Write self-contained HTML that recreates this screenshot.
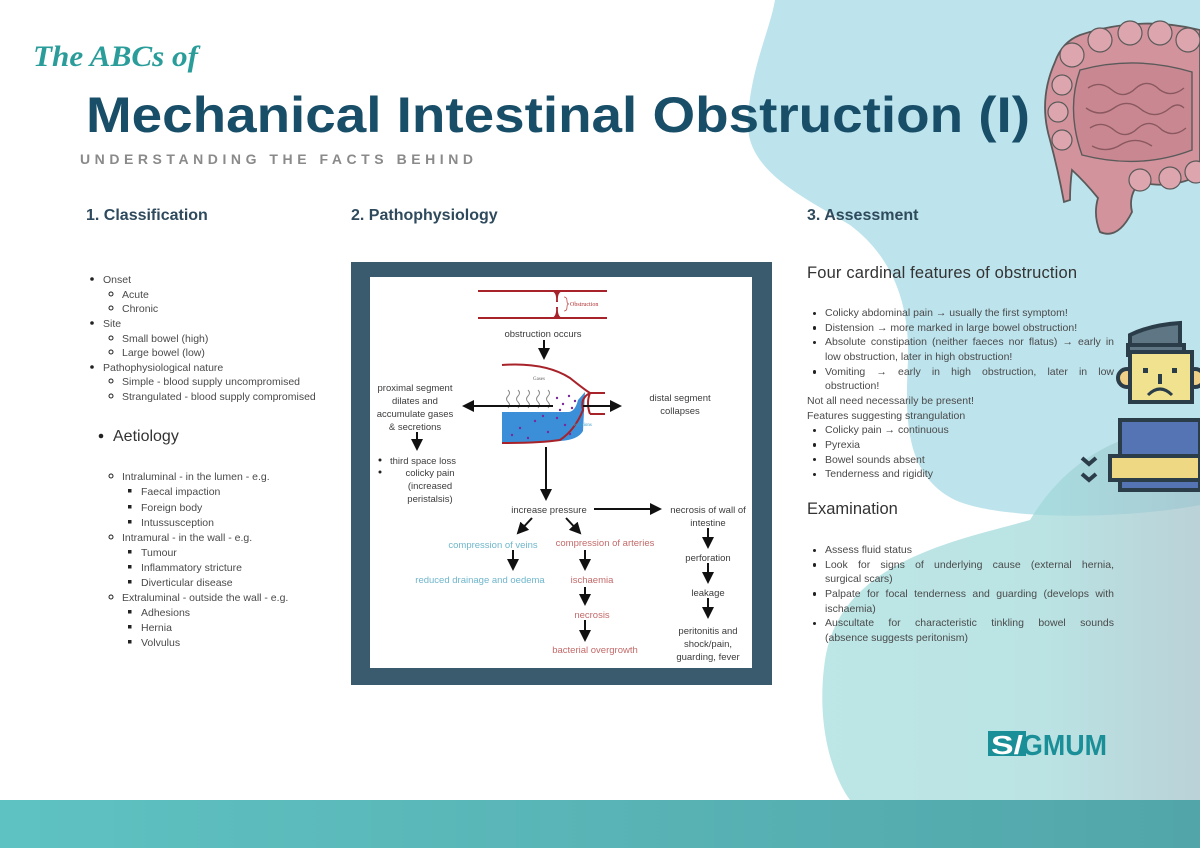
<!DOCTYPE html>
<html><head><meta charset="utf-8"><style>
html,body{margin:0;padding:0;background:#fff;}
svg{display:block;}
text{font-family:"Liberation Sans",sans-serif;}
.t{font-size:10.5px;fill:#4a4a4a;}
.d{font-size:9.5px;fill:#3c3c3c;}
.rc{position:absolute;left:807px;width:307px;font-family:"Liberation Sans",sans-serif;font-size:10.5px;line-height:14.65px;color:#4a4a4a;}
.rc .b{position:relative;padding-left:18px;}
.rc .b:before{content:"";position:absolute;left:6px;top:5.5px;width:3.4px;height:3.4px;border-radius:50%;background:#222;}
.rc .j{text-align:justify;text-align-last:justify;}
.rc .n{padding-left:18px;}
</style></head><body>
<div style="position:relative;width:1200px;height:848px;overflow:hidden;">
<svg width="1200" height="848" viewBox="0 0 1200 848" xmlns="http://www.w3.org/2000/svg">
<defs>
<marker id="ah" markerWidth="6" markerHeight="6" refX="5" refY="3" orient="auto" markerUnits="strokeWidth"><path d="M0,0 L6,3 L0,6 z" fill="#111"/></marker>
<linearGradient id="g1" x1="0" x2="1" y1="0" y2="0"><stop offset="0" stop-color="#a3dcdc"/><stop offset="0.6" stop-color="#a0d8d9"/><stop offset="1" stop-color="#9fc0c9"/></linearGradient>
<linearGradient id="g2" x1="0" x2="1"><stop offset="0" stop-color="#5fc2c2"/><stop offset="1" stop-color="#52a6aa"/></linearGradient>
</defs>
<rect width="1200" height="848" fill="#fff"/>
<!-- top light blob -->
<path d="M775,0 L1200,0 L1200,505 C1120,520 1000,520 955,500 C905,475 905,420 908,360 C910,300 890,255 850,225 C800,195 745,170 748,120 C750,70 770,30 775,0 Z" fill="#bde3ec"/>
<!-- lower blob -->
<path d="M1200,425 C1110,428 1060,470 1030,520 C960,540 840,560 825,660 C815,730 835,780 850,800 L1200,800 Z" fill="url(#g1)" opacity="0.72"/>
<!-- bottom band -->
<rect x="0" y="800" width="1200" height="48" fill="url(#g2)"/>

<!-- Titles -->
<text x="33" y="66" style="font-family:'Liberation Serif',serif;font-style:italic;font-weight:bold;" font-size="30" fill="#2a9d9a" textLength="165" lengthAdjust="spacingAndGlyphs">The ABCs of</text>
<text x="86" y="132" font-weight="bold" font-size="50" fill="#184e68" textLength="944" lengthAdjust="spacingAndGlyphs">Mechanical Intestinal Obstruction (I)</text>
<text x="80" y="164" font-weight="bold" font-size="14" fill="#8a8a8a" textLength="393" lengthAdjust="spacing">UNDERSTANDING THE FACTS BEHIND</text>
<text x="86" y="220" font-weight="bold" font-size="16" fill="#2e4a5c">1. Classification</text>
<text x="351" y="220" font-weight="bold" font-size="16" fill="#2e4a5c">2. Pathophysiology</text>
<text x="807" y="220" font-weight="bold" font-size="16" fill="#2e4a5c">3.  Assessment</text>

<!-- Left column -->
<g class="t">
<circle cx="92" cy="279" r="1.8" fill="#222"/><text class="t" x="103" y="283">Onset</text>
<circle cx="111" cy="294" r="2" fill="none" stroke="#222"/><text class="t" x="122" y="298">Acute</text>
<circle cx="111" cy="308" r="2" fill="none" stroke="#222"/><text class="t" x="122" y="312">Chronic</text>
<circle cx="92" cy="323" r="1.8" fill="#222"/><text class="t" x="103" y="327">Site</text>
<circle cx="111" cy="338" r="2" fill="none" stroke="#222"/><text class="t" x="122" y="342">Small bowel (high)</text>
<circle cx="111" cy="352" r="2" fill="none" stroke="#222"/><text class="t" x="122" y="356">Large bowel (low)</text>
<circle cx="92" cy="367" r="1.8" fill="#222"/><text class="t" x="103" y="371">Pathophysiological nature</text>
<circle cx="111" cy="381" r="2" fill="none" stroke="#222"/><text class="t" x="122" y="385">Simple - blood supply uncompromised</text>
<circle cx="111" cy="396" r="2" fill="none" stroke="#222"/><text class="t" x="122" y="400">Strangulated - blood supply compromised</text>
<circle cx="101" cy="436" r="2.3" fill="#222"/><text x="113" y="441" font-size="16" fill="#333">Aetiology</text>
<circle cx="111" cy="476" r="2" fill="none" stroke="#222"/><text class="t" x="122" y="480">Intraluminal - in the lumen - e.g.</text>
<rect x="128" y="489" width="3.5" height="3.5" fill="#222"/><text class="t" x="141" y="495">Faecal impaction</text>
<rect x="128" y="505" width="3.5" height="3.5" fill="#222"/><text class="t" x="141" y="511">Foreign body</text>
<rect x="128" y="520" width="3.5" height="3.5" fill="#222"/><text class="t" x="141" y="526">Intussusception</text>
<circle cx="111" cy="537" r="2" fill="none" stroke="#222"/><text class="t" x="122" y="541">Intramural - in the wall - e.g.</text>
<rect x="128" y="550" width="3.5" height="3.5" fill="#222"/><text class="t" x="141" y="556">Tumour</text>
<rect x="128" y="565" width="3.5" height="3.5" fill="#222"/><text class="t" x="141" y="571">Inflammatory stricture</text>
<rect x="128" y="580" width="3.5" height="3.5" fill="#222"/><text class="t" x="141" y="586">Diverticular disease</text>
<circle cx="111" cy="597" r="2" fill="none" stroke="#222"/><text class="t" x="122" y="601">Extraluminal - outside the wall - e.g.</text>
<rect x="128" y="610" width="3.5" height="3.5" fill="#222"/><text class="t" x="141" y="616">Adhesions</text>
<rect x="128" y="625" width="3.5" height="3.5" fill="#222"/><text class="t" x="141" y="631">Hernia</text>
<rect x="128" y="640" width="3.5" height="3.5" fill="#222"/><text class="t" x="141" y="646">Volvulus</text>
</g>

<!-- Diagram frame -->
<rect x="351" y="262" width="421" height="423" fill="#3a5b6d"/>
<rect x="370" y="277" width="382" height="391" fill="#fff"/>
<g stroke="#a8222a" stroke-width="2" fill="none">
<line x1="478" y1="291" x2="607" y2="291"/><line x1="478" y1="318" x2="607" y2="318"/>
</g>
<path d="M551,291 Q557,292 556,302 L558,302 Q557,292 563,291 Z M551,318 Q557,317 556,307 L558,307 Q557,317 563,318 Z" fill="#a8222a"/>
<path d="M564,297 q3,0 3,4 q0,3 2,3 q-2,0 -2,3 q0,4 -3,4" stroke="#c0504d" fill="none" stroke-width="0.8"/>
<text x="570" y="306" style="font-family:'Liberation Serif',serif" font-size="6" fill="#b03030">Obstruction</text>
<text class="d" x="543" y="337" text-anchor="middle">obstruction occurs</text>
<g stroke="#111" stroke-width="2" fill="none" marker-end="url(#ah)">
<line x1="544" y1="340" x2="544" y2="358"/>
</g>
<path d="M502,412 L568,412 Q575,412 578,400 L585,392 L583,431 Q578,440 560,441 L502,443 Z" fill="#3a8fd8"/>
<path d="M502,365 Q545,362 570,378 Q585,390 590,393 L605,393 M590,393 Q580,398 583,410 Q575,430 560,440 Q540,443 502,443" stroke="#a8222a" stroke-width="2" fill="none"/>
<path d="M590,393 L605,393 M590,414 L605,414 M590,393 Q586,403 590,414" stroke="#a8222a" stroke-width="2" fill="none"/>
<g fill="#7a2a9a">
<circle cx="557" cy="418" r="1.2"/><circle cx="565" cy="425" r="1.2"/><circle cx="520" cy="428" r="1.2"/><circle cx="535" cy="421" r="1.2"/><circle cx="548" cy="432" r="1.2"/><circle cx="512" cy="435" r="1.2"/><circle cx="570" cy="434" r="1.2"/><circle cx="528" cy="438" r="1.2"/><circle cx="543" cy="416" r="1.2"/>
<circle cx="557" cy="398" r="1.2"/><circle cx="563" cy="404" r="1.2"/><circle cx="569" cy="396" r="1.2"/><circle cx="572" cy="408" r="1.2"/><circle cx="560" cy="410" r="1.2"/><circle cx="575" cy="401" r="1.2"/>
</g>
<g stroke="#888" stroke-width="1" fill="none">
<path d="M508,390 q3,3 0,6 q-3,3 0,6 q3,3 0,6"/><path d="M518,390 q3,3 0,6 q-3,3 0,6 q3,3 0,6"/><path d="M528,390 q3,3 0,6 q-3,3 0,6 q3,3 0,6"/><path d="M538,390 q3,3 0,6 q-3,3 0,6 q3,3 0,6"/><path d="M548,390 q3,3 0,6 q-3,3 0,6 q3,3 0,6"/>
</g>
<text x="533" y="380" style="font-family:'Liberation Serif',serif" font-size="5" fill="#666">Gases</text>
<text x="571" y="426" style="font-family:'Liberation Serif',serif" font-size="5" fill="#3aa0c8">Secretions</text>
<g stroke="#111" stroke-width="2" fill="none" marker-end="url(#ah)">
<line x1="553" y1="406" x2="464" y2="406"/>
<line x1="583" y1="406" x2="620" y2="406"/>
<line x1="417" y1="432" x2="417" y2="449"/>
<line x1="546" y1="447" x2="546" y2="499"/>
<line x1="594" y1="509" x2="660" y2="509"/>
<line x1="532" y1="518" x2="518" y2="533"/>
<line x1="566" y1="518" x2="580" y2="533"/>
<line x1="513" y1="550" x2="513" y2="569"/>
<line x1="585" y1="550" x2="585" y2="569"/>
<line x1="585" y1="587" x2="585" y2="604"/>
<line x1="585" y1="620" x2="585" y2="640"/>
<line x1="708" y1="528" x2="708" y2="547"/>
<line x1="708" y1="563" x2="708" y2="582"/>
<line x1="708" y1="598" x2="708" y2="617"/>
</g>
<g class="d" text-anchor="middle">
<text class="d" x="415" y="391">proximal segment</text>
<text class="d" x="415" y="404">dilates and</text>
<text class="d" x="415" y="417">accumulate gases</text>
<text class="d" x="415" y="430">&amp; secretions</text>
<text class="d" x="680" y="401">distal segment</text>
<text class="d" x="680" y="414">collapses</text>
<text class="d" x="430" y="476">colicky pain</text>
<text class="d" x="430" y="489">(increased</text>
<text class="d" x="430" y="502">peristalsis)</text>
<text class="d" x="549" y="513">increase pressure</text>
<text class="d" x="708" y="513">necrosis of wall of</text>
<text class="d" x="708" y="526">intestine</text>
<text class="d" x="708" y="561">perforation</text>
<text class="d" x="708" y="596">leakage</text>
<text class="d" x="708" y="634">peritonitis and</text>
<text class="d" x="708" y="647">shock/pain,</text>
<text class="d" x="708" y="660">guarding, fever</text>
<text x="493" y="548" font-size="9.5" fill="#6fb6cc">compression of veins</text>
<text x="480" y="583" font-size="9.5" fill="#6fb6cc">reduced drainage and oedema</text>
<text x="605" y="546" font-size="9.5" fill="#c46a6a">compression of arteries</text>
<text x="592" y="583" font-size="9.5" fill="#c46a6a">ischaemia</text>
<text x="592" y="618" font-size="9.5" fill="#c46a6a">necrosis</text>
<text x="595" y="653" font-size="9.5" fill="#c46a6a">bacterial overgrowth</text>
</g>
<circle cx="380" cy="460" r="1.5" fill="#222"/><text class="d" x="390" y="464">third space loss</text>
<circle cx="380" cy="472" r="1.5" fill="#222"/>

<text x="807" y="278" font-size="16.5" fill="#333" textLength="270" lengthAdjust="spacing">Four cardinal features of obstruction</text>
<text x="807" y="514" font-size="16.5" fill="#333">Examination</text>

<!-- intestine illustration -->
<g stroke="#5a5a5a" stroke-width="1.8">
<path d="M1080,35 Q1140,15 1200,30 L1200,175 Q1170,190 1140,182 Q1128,195 1132,212 Q1118,240 1100,232 Q1093,215 1098,198 Q1085,182 1072,170 Q1070,185 1070,200 L1064,202 Q1058,170 1050,140 Q1038,100 1055,62 Q1062,42 1080,35 Z" fill="#d3939d"/>
<path d="M1080,70 Q1135,55 1192,72 L1192,150 Q1140,170 1082,155 Q1066,110 1080,70 Z" fill="#c98891" stroke-width="1.4"/>
<g fill="#dda5ad" stroke-width="1.2">
<circle cx="1072" cy="55" r="12"/><circle cx="1100" cy="40" r="12"/><circle cx="1130" cy="33" r="12"/><circle cx="1160" cy="33" r="12"/><circle cx="1188" cy="40" r="12"/>
<circle cx="1062" cy="85" r="10"/><circle cx="1058" cy="112" r="10"/><circle cx="1062" cy="140" r="10"/>
<circle cx="1140" cy="180" r="11"/><circle cx="1170" cy="178" r="11"/><circle cx="1196" cy="172" r="11"/>
</g>
<path d="M1088,88 q12,-8 24,2 q12,10 24,-2 q12,-10 24,2 q12,8 24,-2 M1086,108 q14,10 28,0 q14,-10 28,2 q14,10 28,-2 q8,-6 14,0 M1090,128 q12,-8 24,2 q12,10 24,-2 q12,-10 24,2 q12,8 24,-2 M1092,146 q15,8 30,-2 q15,-8 30,2" fill="none" stroke="#8a5860" stroke-width="1.4"/>
</g>
<!-- person icon -->
<g stroke="#2c3d4a" stroke-width="4">
<path d="M1130,370 L1130,335 Q1150,325 1180,323 L1180,370 Z" fill="#5f7784"/>
<rect x="1128" y="345" width="56" height="10" fill="#5f7784"/>
<circle cx="1127" cy="378" r="9" fill="#f0cf86"/>
<circle cx="1195" cy="378" r="9" fill="#f0cf86"/>
<rect x="1130" y="352" width="62" height="50" fill="#f0e28e"/>
<path d="M1120,420 L1200,420 L1200,490 L1120,490 Z" fill="#5574b4"/>
<rect x="1110" y="456" width="90" height="24" fill="#eed883"/>
</g>
<g fill="#2c3d4a">
<rect x="1143" y="368" width="5" height="5"/><rect x="1172" y="368" width="5" height="5"/><rect x="1158" y="374" width="4" height="10"/>
</g>
<path d="M1148,395 Q1160,383 1172,395" stroke="#2c3d4a" stroke-width="3" fill="none"/>
<path d="M1082,458 l7,6 l7,-6 M1082,474 l7,6 l7,-6" stroke="#2c3d4a" stroke-width="4" fill="none"/>
<!-- logo -->
<rect x="988" y="731" width="38" height="25" fill="#1a8f98"/>
<text x="991" y="754" font-weight="bold" font-size="26" fill="#fff" textLength="32" lengthAdjust="spacingAndGlyphs">S/</text>
<text x="1022" y="755" font-weight="bold" font-size="29" fill="#1a8f98" textLength="85" lengthAdjust="spacingAndGlyphs">GMUM</text>
</svg>

<div class="rc" style="top:306px;">
<div class="b">Colicky abdominal pain → usually the first symptom!</div>
<div class="b">Distension → more marked in large bowel obstruction!</div>
<div class="b j">Absolute constipation (neither faeces nor flatus) → early in</div>
<div class="n">low obstruction, later in high obstruction!</div>
<div class="b j">Vomiting → early in high obstruction, later in low</div>
<div class="n">obstruction!</div>
<div>Not all need necessarily be present!</div>
<div>Features suggesting strangulation</div>
<div class="b">Colicky pain → continuous</div>
<div class="b">Pyrexia</div>
<div class="b">Bowel sounds absent</div>
<div class="b">Tenderness and rigidity</div>
</div>
<div class="rc" style="top:543px;">
<div class="b">Assess fluid status</div>
<div class="b j">Look for signs of underlying cause (external hernia,</div>
<div class="n">surgical scars)</div>
<div class="b j">Palpate for focal tenderness and guarding (develops with</div>
<div class="n">ischaemia)</div>
<div class="b j">Auscultate for characteristic tinkling bowel sounds</div>
<div class="n">(absence suggests peritonism)</div>
</div>
</div>
</body></html>
